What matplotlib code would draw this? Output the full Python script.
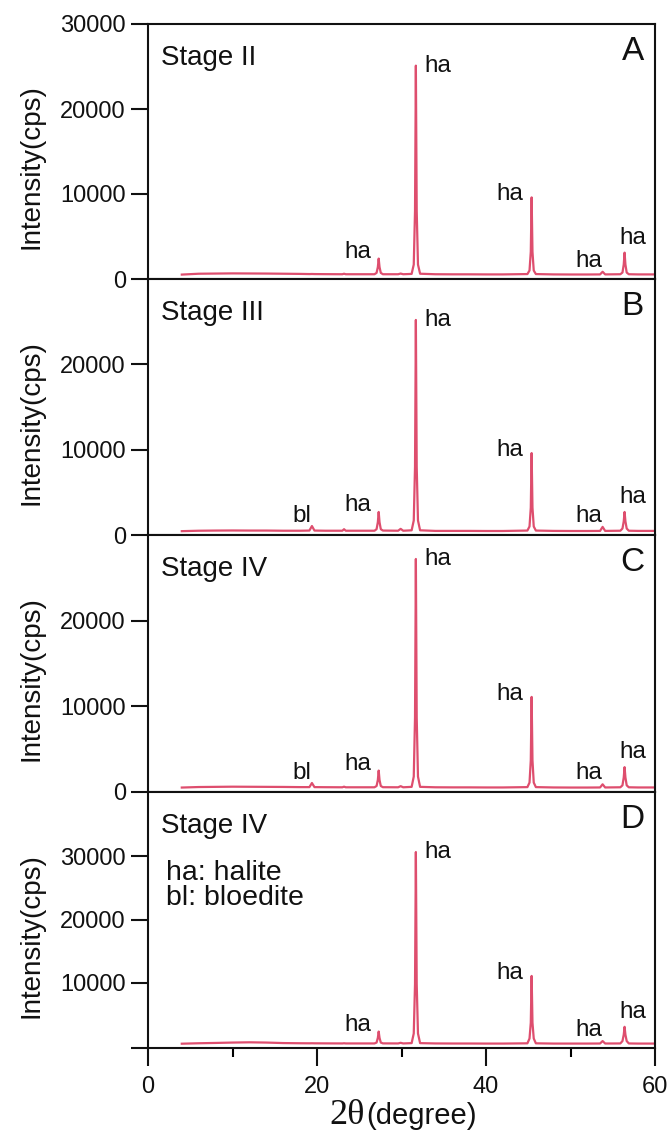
import matplotlib
matplotlib.use('Agg')
import matplotlib.pyplot as plt
from matplotlib.ticker import FixedLocator

plt.rcParams['font.family'] = ['Liberation Sans', 'DejaVu Sans']

# ---------------- data ----------------
two_theta = [4.0, 6.0, 8.0, 10.0, 12.0, 14.0, 16.0, 18.0, 19.1, 19.4, 19.7, 21.0,
             23.0, 23.2, 23.4, 25.0, 26.8, 27.05, 27.2, 27.3, 27.4, 27.55, 27.8,
             29.6, 29.9, 30.2, 31.2, 31.45, 31.6, 31.7, 31.8, 31.95, 32.2,
             34.0, 36.0, 38.0, 40.0, 42.0, 44.9, 45.15, 45.3, 45.4, 45.5, 45.65, 45.9,
             48.0, 50.0, 52.0, 53.5, 53.8, 54.1, 55.9, 56.15, 56.3, 56.4, 56.5, 56.65,
             56.9, 58.0, 60.0]

intensity_A = [520, 620, 640, 660, 650, 640, 620, 600, 580, 590, 580, 570,
               560, 620, 560, 560, 560, 720, 1400, 2400, 1400, 720, 560,
               560, 640, 560, 600, 1700, 8000, 25100, 8000, 1700, 620,
               560, 550, 550, 540, 540, 580, 1000, 3200, 9600, 3200, 1000, 580,
               540, 530, 530, 540, 850, 540, 560, 760, 1700, 3100, 1700, 760,
               560, 540, 540]

intensity_B = [450, 500, 520, 530, 520, 520, 500, 500, 520, 1050, 520, 500,
               500, 680, 500, 500, 500, 680, 1500, 2700, 1500, 680, 520,
               500, 720, 500, 550, 1700, 8000, 25200, 8000, 1700, 550,
               480, 480, 480, 470, 470, 520, 1000, 3200, 9600, 3200, 1000, 520,
               480, 470, 470, 480, 950, 480, 500, 760, 1600, 2700, 1600, 760,
               500, 480, 480]

intensity_C = [520, 580, 600, 620, 610, 600, 590, 570, 570, 1050, 570, 560,
               550, 620, 550, 550, 550, 700, 1400, 2500, 1400, 700, 560,
               550, 680, 550, 600, 1800, 8700, 27200, 8700, 1800, 600,
               550, 540, 540, 530, 530, 570, 1100, 3700, 11100, 3700, 1100, 570,
               530, 520, 520, 530, 900, 530, 550, 780, 1700, 2900, 1700, 780,
               550, 530, 530]

intensity_D = [380, 450, 500, 560, 600, 560, 480, 450, 440, 450, 440, 430,
               420, 450, 420, 420, 420, 560, 1300, 2300, 1300, 560, 430,
               420, 520, 420, 470, 2000, 9800, 30700, 9800, 2000, 470,
               420, 410, 410, 400, 400, 440, 1200, 3700, 11100, 3700, 1200, 440,
               400, 400, 400, 410, 800, 410, 420, 800, 1800, 3050, 1800, 800,
               420, 400, 400]

intensities = [intensity_A, intensity_B, intensity_C, intensity_D]

panel_letters = ['A', 'B', 'C', 'D']
stage_labels = ['Stage II', 'Stage III', 'Stage IV', 'Stage IV']

ha_peaks = [27.3, 31.7, 45.4, 53.8, 56.4]
bl_peaks = [19.4]
peak_labels = [
    [(p, 'ha') for p in ha_peaks],
    [(p, 'bl') for p in bl_peaks] + [(p, 'ha') for p in ha_peaks],
    [(p, 'bl') for p in bl_peaks] + [(p, 'ha') for p in ha_peaks],
    [(p, 'ha') for p in ha_peaks],
]

y_limits = [(0, 30000), (0, 30000), (0, 30000), (-300, 40200)]
y_ticks = [[0, 10000, 20000, 30000], [0, 10000, 20000], [0, 10000, 20000],
           [-300, 10000, 20000, 30000]]
y_ticklabels = [['0', '10000', '20000', '30000'], ['0', '10000', '20000'],
                ['0', '10000', '20000'], ['', '10000', '20000', '30000']]

x_major = [0, 20, 40, 60]
x_minor = [10, 30, 50]

legend_lines = ['ha: halite', 'bl: bloedite']

# ---------------- styling / layout ----------------
W, H = 670, 1131
fig = plt.figure(figsize=(W / 100, H / 100), dpi=100)

line_color = '#DE4E6E'
ink = '#111111'
tops = [24, 279, 535, 792]
bottoms = [279, 535, 792, 1048]
left_px, right_px = 148, 655

# label offsets in pixels: (ha, dx, dy)
label_style = {19.4: ('right', -1, 4), 27.3: ('right', -7, 1),
               31.7: ('left', 9, -6), 45.4: ('right', -8, -3),
               53.8: ('right', 0, 5), 56.4: ('center', 8, 9)}

axes = []
for i in range(4):
    ax = fig.add_axes([left_px / W, (H - bottoms[i]) / H,
                       (right_px - left_px) / W, (bottoms[i] - tops[i]) / H])
    axes.append(ax)
    ax.plot(two_theta, intensities[i], color=line_color, lw=1.6,
            solid_joinstyle='round')
    ax.set_xlim(0, 60)
    ax.set_ylim(*y_limits[i])
    ax.yaxis.set_major_locator(FixedLocator(y_ticks[i]))
    ax.set_yticklabels(y_ticklabels[i])
    for s in ax.spines.values():
        s.set_linewidth(1.5)
        s.set_color(ink)
    ax.tick_params(axis='y', direction='out', length=12, width=1.5, pad=4,
                   labelsize=17, colors=ink)
    ax.set_ylabel('Intensity(cps)', fontsize=20, color=ink)
    ax.yaxis.set_label_coords(-0.205, 0.44)

    if i < 3:
        ax.tick_params(axis='x', which='both', bottom=False, labelbottom=False)
    else:
        ax.xaxis.set_major_locator(FixedLocator(x_major))
        ax.xaxis.set_minor_locator(FixedLocator(x_minor))
        ax.tick_params(axis='x', which='major', direction='out', length=13,
                       width=1.5, pad=7, labelsize=17, colors=ink)
        ax.tick_params(axis='x', which='minor', direction='out', length=6.5,
                       width=1.5)

    ph = bottoms[i] - tops[i]
    ax.text(13 / 507, 1 - 41 / ph, stage_labels[i], transform=ax.transAxes,
            fontsize=20, ha='left', va='baseline', color=ink)
    ax.text(1 - 11 / 507, 1 - 36 / ph, panel_letters[i], transform=ax.transAxes,
            fontsize=24, ha='right', va='baseline', color=ink)

    for pos, lab in peak_labels[i]:
        idx = two_theta.index(pos)
        ha, dx, dy = label_style[pos]
        ax.annotate(lab, xy=(pos, intensities[i][idx]), xytext=(dx, dy),
                    textcoords='offset pixels', ha=ha, va='baseline',
                    fontsize=17.5, color=ink)

# legend text in panel D
axD = axes[3]
phD = bottoms[3] - tops[3]
for k, t in enumerate(legend_lines):
    axD.text(18 / 507, 1 - (88 + 25 * k) / phD, t, transform=axD.transAxes,
             fontsize=20.5, ha='left', va='baseline', color=ink)

# x label: "2θ" (serif) + "(degree)"
fig.text(365 / W, 7 / H, '2θ', fontsize=26, family=['Liberation Serif', 'DejaVu Serif'],
         ha='right', va='baseline', color=ink)
fig.text(366 / W, 7 / H, '(degree)', fontsize=21, ha='left', va='baseline',
         color=ink)

fig.savefig('out.png', dpi=100)
